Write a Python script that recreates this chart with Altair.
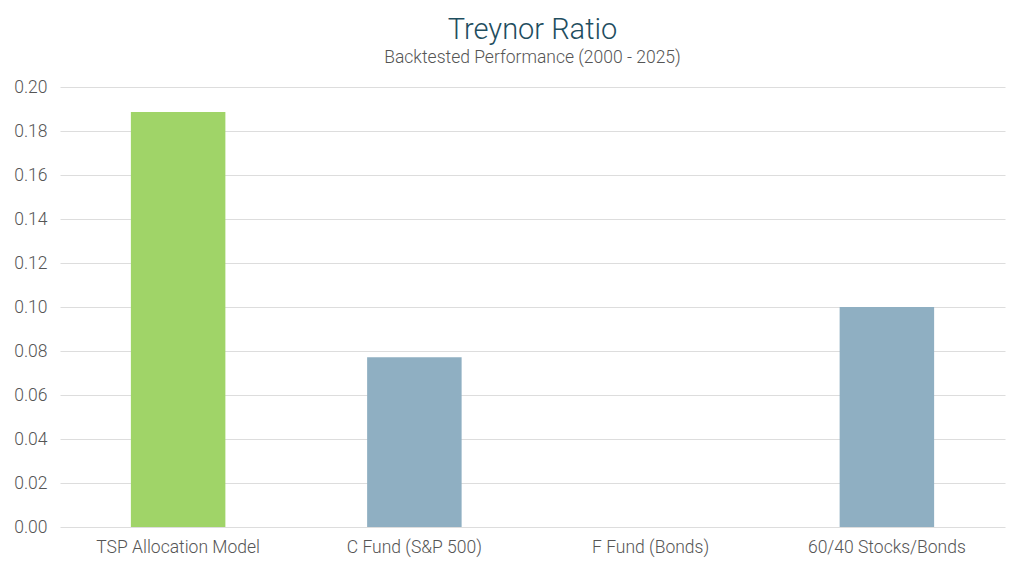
import altair as alt
import pandas as pd

categories = ["TSP Allocation Model", "C Fund (S&P 500)", "F Fund (Bonds)", "60/40 Stocks/Bonds"]
values = [0.1886, 0.0772, 0.0, 0.1000]
groups = ["model", "other", "other", "other"]

df = pd.DataFrame({"category": categories, "value": values, "group": groups})

chart = alt.Chart(df).mark_bar().encode(
    x=alt.X("category:N", sort=categories, title=None,
            scale=alt.Scale(paddingInner=0.6, paddingOuter=0.3),
            axis=alt.Axis(labelAngle=0, labelFont="Roboto", labelFontWeight=300,
                          labelFontSize=17.5, labelColor="#555555", labelPadding=11,
                          ticks=False, domain=False)),
    y=alt.Y("value:Q", title=None,
            scale=alt.Scale(domain=[0, 0.2], nice=False),
            axis=alt.Axis(values=[i * 0.02 for i in range(11)], format=".2f",
                          labelFont="Roboto", labelFontWeight=300, labelFontSize=17.5,
                          labelColor="#555555", labelPadding=13, ticks=False,
                          domain=False, gridColor="#dddddd", gridWidth=1)),
    color=alt.Color("group:N", legend=None,
                    scale=alt.Scale(domain=["model", "other"], range=["#a0d468", "#8fafc2"])),
).properties(
    width=945, height=440,
    padding={"left": 5, "right": 5, "top": 7, "bottom": 5},
    title=alt.TitleParams(text="Treynor Ratio", subtitle="Backtested Performance (2000 - 2025)",
                          anchor="middle", font="Roboto", fontWeight=300, fontSize=29,
                          color="#1f4e5f", subtitleFont="Roboto", subtitleFontWeight=300,
                          subtitleFontSize=17.5, subtitleColor="#555555", subtitlePadding=4,
                          offset=12),
).configure(background="white").configure_view(stroke=None)

chart.save("out.html", embed_options={"renderer": "svg", "actions": False})
